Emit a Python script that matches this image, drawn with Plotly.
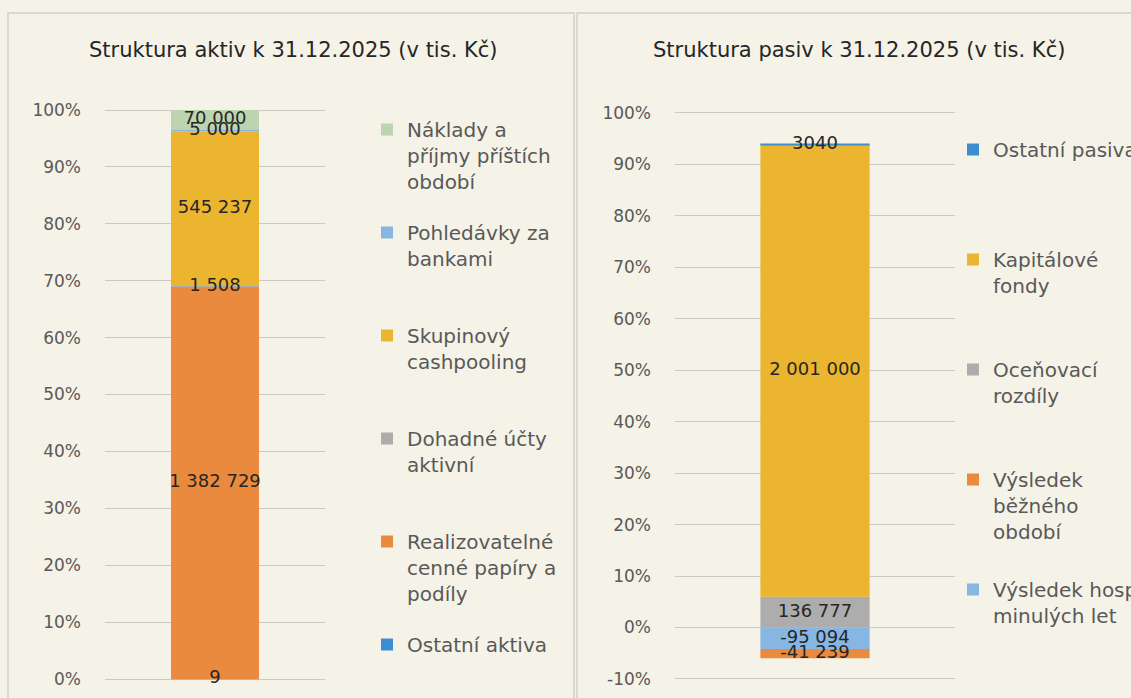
import plotly.graph_objects as go

W, H = 1131, 698

# ---------------- data ----------------
aktiva_names = ["Ostatní aktiva", "Realizovatelné<br>cenné papíry a<br>podíly",
                "Dohadné účty<br>aktivní", "Skupinový<br>cashpooling",
                "Pohledávky za<br>bankami", "Náklady a<br>příjmy příštích<br>období"]
aktiva_values = [9, 1382729, 1508, 545237, 5000, 70000]
aktiva_labels = ["9", "1 382 729", "1 508", "545 237", "5 000", "70 000"]
aktiva_colors = ["#3b8fd0", "#e98a3e", "#adadad", "#ebb52f", "#87b6e3", "#bcd5b0"]

pasiva_names = ["Výsledek hosp.<br>minulých let", "Výsledek<br>běžného<br>období",
                "Oceňovací<br>rozdíly", "Kapitálové<br>fondy", "Ostatní pasiva"]
pasiva_values = [-95094, -41239, 136777, 2001000, 3040]
pasiva_labels = ["-95 094", "-41 239", "136 777", "2 001 000", "3040"]
pasiva_colors = ["#87b6e3", "#e98a3e", "#adadad", "#ebb52f", "#3b8fd0"]

y_ticks_aktiva = list(range(0, 101, 10))
y_ticks_pasiva = list(range(-10, 101, 10))

FONT = "DejaVu Sans"
TXT = "#262626"
GRAY = "#595959"
BG = "#f5f2e7"


def shares(values):
    tot = sum(abs(v) for v in values)
    return [v / tot * 100 for v in values]


def centers(sh):
    pos, neg, out = 0.0, 0.0, []
    for s in sh:
        if s >= 0:
            out.append(pos + s / 2)
            pos += s
        else:
            out.append(neg + s / 2)
            neg += s
    return out


def pad_lines(name, n=3):
    k = name.count("<br>") + 1
    return name + "<br> " * (n - k)


fig = go.Figure()

sa = shares(aktiva_values)
for i, (n, s, c) in enumerate(zip(aktiva_names, sa, aktiva_colors)):
    fig.add_trace(go.Bar(x=[0], y=[s], name=pad_lines(n), marker=dict(color=c, line=dict(width=0)),
                         width=0.4, xaxis="x", yaxis="y", legend="legend",
                         legendgroup="a%d" % i, legendrank=100 - i, hoverinfo="skip"))
fig.add_trace(go.Scatter(x=[0] * len(sa), y=centers(sa), text=aktiva_labels, mode="text",
                         textfont=dict(family=FONT, size=18, color=TXT), showlegend=False,
                         cliponaxis=False, xaxis="x", yaxis="y", hoverinfo="skip"))

sp = shares(pasiva_values)
for i, (n, s, c) in enumerate(zip(pasiva_names, sp, pasiva_colors)):
    fig.add_trace(go.Bar(x=[0], y=[s], name=pad_lines(n), marker=dict(color=c, line=dict(width=0)),
                         width=0.39, xaxis="x2", yaxis="y2", legend="legend2",
                         legendgroup="p%d" % i, legendrank=100 - i, hoverinfo="skip"))
fig.add_trace(go.Scatter(x=[0] * len(sp), y=centers(sp), text=pasiva_labels, mode="text",
                         textfont=dict(family=FONT, size=18, color=TXT), showlegend=False,
                         cliponaxis=False, xaxis="x2", yaxis="y2", hoverinfo="skip"))

# pixel geometry -> paper fractions (slightly padded so edge gridlines stay visible)
PAD = 0.3
a_pu = (679 - 110) / 100.0
p_pu = (679 - 113) / 110.0
ya_dom = [(H - (679 + PAD * a_pu)) / H, (H - (110 - PAD * a_pu)) / H]
yp_dom = [(H - (679 + PAD * p_pu)) / H, (H - (113 - PAD * p_pu)) / H]

axis_common = dict(showgrid=True, gridcolor="#cbcac5", gridwidth=1, zeroline=False,
                   tickfont=dict(family=FONT, size=17, color=GRAY),
                   ticks="", showline=False, ticklabelstandoff=23, fixedrange=True)
xcommon = dict(range=[-0.5, 0.5], showgrid=False, zeroline=False, showticklabels=False,
               showline=False, ticks="", fixedrange=True)

legend_common = dict(font=dict(family=FONT, size=20, color=GRAY), bgcolor="rgba(0,0,0,0)",
                     traceorder="grouped", valign="top", xanchor="left",
                     yanchor="top", itemclick=False, itemdoubleclick=False)

fig.update_layout(
    width=W, height=H,
    margin=dict(l=0, r=0, t=0, b=0, autoexpand=False),
    paper_bgcolor=BG, plot_bgcolor=BG,
    barmode="relative",
    showlegend=True,
    xaxis=dict(domain=[105 / W, 325 / W], anchor="y", **xcommon),
    yaxis=dict(domain=ya_dom, anchor="x", range=[-PAD, 100 + PAD],
               tickmode="array", tickvals=y_ticks_aktiva,
               ticktext=["%d%%" % v for v in y_ticks_aktiva], **axis_common),
    xaxis2=dict(domain=[675 / W, 955 / W], anchor="y2", **xcommon),
    yaxis2=dict(domain=yp_dom, anchor="x2", range=[-10 - PAD, 100 + PAD],
                tickmode="array", tickvals=y_ticks_pasiva,
                ticktext=["%d%%" % v for v in y_ticks_pasiva], **axis_common),
    legend=dict(x=367 / W, y=(H - 110) / H, tracegroupgap=22, **legend_common),
    legend2=dict(x=953 / W, y=(H - 130) / H, tracegroupgap=29, **legend_common),
    annotations=[
        dict(text="Struktura aktiv k 31.12.2025 (v tis. Kč)", x=293 / W, y=(H - 50) / H,
             xref="paper", yref="paper", showarrow=False, xanchor="center", yanchor="middle",
             font=dict(family=FONT, size=21, color=TXT)),
        dict(text="Struktura pasiv k 31.12.2025 (v tis. Kč)", x=859 / W, y=(H - 50) / H,
             xref="paper", yref="paper", showarrow=False, xanchor="center", yanchor="middle",
             font=dict(family=FONT, size=21, color=TXT)),
    ],
    shapes=[
        dict(type="rect", xref="paper", yref="paper", x0=8 / W, x1=574 / W,
             y0=-0.05, y1=(H - 13) / H, line=dict(color="#d2d0c8", width=1.5),
             layer="below"),
        dict(type="rect", xref="paper", yref="paper", x0=577 / W, x1=1.05,
             y0=-0.05, y1=(H - 13) / H, line=dict(color="#d2d0c8", width=1.5),
             layer="below"),
    ],
)

fig.write_html(
    "out.html",
    config={"displayModeBar": False},
    post_script="document.body.style.margin='0';document.body.style.background='%s';" % BG,
)
